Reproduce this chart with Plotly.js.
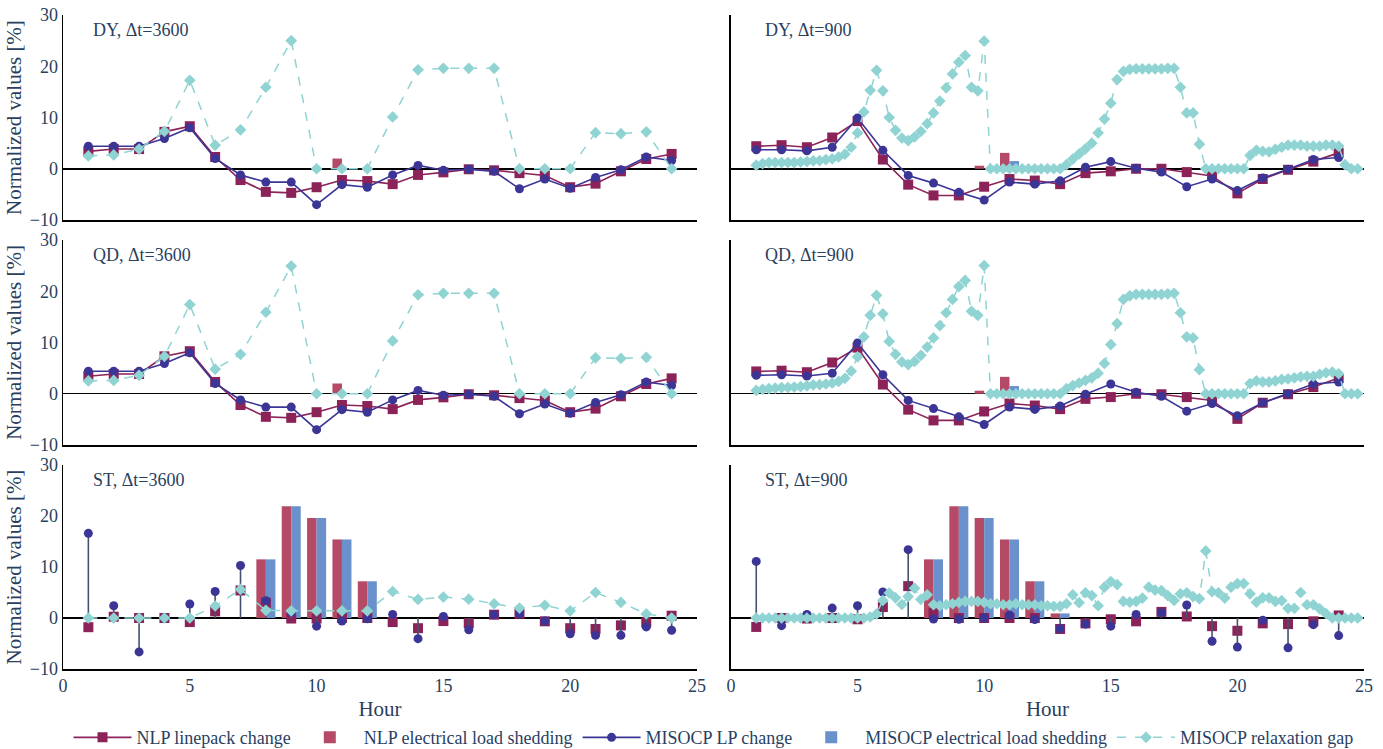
<!DOCTYPE html>
<html>
<head>
<meta charset="utf-8">
<script src="https://cdn.plot.ly/plotly-3.0.1.min.js"></script>
<style>html,body{margin:0;padding:0;background:#fff;}#chart{width:1383px;height:749px;}</style>
</head>
<body>
<div id="chart"></div>
<script>
// ---------- x values ----------
const hours = [1,2,3,4,5,6,7,8,9,10,11,12,13,14,15,16,17,18,19,20,21,22,23,24];
const quarterHours = [
  1,1.25,1.5,1.75, 2,2.25,2.5,2.75, 3,3.25,3.5,3.75, 4,4.25,4.5,4.75,
  5,5.25,5.5,5.75, 6,6.25,6.5,6.75, 7,7.25,7.5,7.75, 8,8.25,8.5,8.75,
  9,9.25,9.5,9.75, 10,10.25,10.5,10.75, 11,11.25,11.5,11.75, 12,12.25,12.5,12.75,
  13,13.25,13.5,13.75, 14,14.25,14.5,14.75, 15,15.25,15.5,15.75, 16,16.25,16.5,16.75,
  17,17.25,17.5,17.75, 18,18.25,18.5,18.75, 19,19.25,19.5,19.75, 20,20.25,20.5,20.75,
  21,21.25,21.5,21.75, 22,22.25,22.5,22.75, 23,23.25,23.5,23.75, 24,24.25,24.5,24.75
];
const xTicks = [0,5,10,15,20,25];
const yTicks = [-10,0,10,20,30];

// ---------- DY, dt=3600 ----------
const dy3600Nlp    = [3.4,3.85,3.85,7.2,8.3,2.3,-2.2,-4.5,-4.7,-3.6,-2.2,-2.4,-3.0,-1.2,-0.7,-0.1,-0.3,-0.85,-1.3,-3.6,-2.9,-0.5,1.9,2.9];
const dy3600Misocp = [4.4,4.4,4.4,5.9,8.0,2.0,-1.2,-2.6,-2.6,-7.0,-3.1,-3.6,-1.2,0.65,-0.3,-0.1,-0.5,-3.9,-2.0,-3.8,-1.7,-0.2,2.3,1.6];
const dy3600Gap    = [2.5,2.7,3.85,7.3,17.25,4.6,7.6,15.9,25.0,0,0,0,10.1,19.3,19.6,19.6,19.6,0,0,0,7.05,6.85,7.2,0];
const dy3600NlpShed    = [0,0,0,0,0,0,0,0,0,0,2.0,0,0,0,0,0,0,0,0,0,0,0,0,0];
const dy3600MisocpShed = [0,0,0,0,0,0,0,0,0,0,0,0,0,0,0,0,0,0,0,0,0,0,0,0];

// ---------- DY, dt=900 ----------
const dy900Nlp    = [4.4,4.6,4.2,6.1,9.3,1.8,-3.1,-5.2,-5.2,-3.5,-2.0,-2.3,-3.0,-0.85,-0.5,0,0,-0.65,-1.4,-4.8,-2.0,-0.2,1.4,3.1];
const dy900Misocp = [3.7,3.7,3.5,4.2,9.9,3.6,-1.3,-2.8,-4.6,-6.1,-2.6,-3.0,-2.35,0.3,1.4,0.1,-0.65,-3.5,-2.0,-4.25,-1.8,-0.1,1.8,2.2];
const dy900Gap = [
  0.7,1.0,1.2,1.2, 1.2,1.2,1.2,1.3, 1.4,1.55,1.6,1.8, 1.95,2.3,2.85,4.2,
  7.0,11.1,15.3,19.2, 15.2,10.0,7.5,6.0, 5.5,6.2,7.3,8.8, 10.9,13.2,15.8,18.5,
  20.8,22.1,15.9,15.2, 24.9,0,0,0, 0,0,0,0, 0,0,0,0,
  0,0.8,1.9,2.9, 3.9,5.0,7.0,9.7, 12.8,17.4,19.0,19.4, 19.5,19.5,19.5,19.5,
  19.5,19.6,19.6,15.9, 10.9,10.9,4.8,0, 0,0,0,0, 0,0,2.6,3.6,
  3.4,3.3,3.8,4.2, 4.6,4.6,4.6,4.4, 4.4,4.4,4.6,4.6, 4.4,0.8,0,0
];
const dy900NlpShed    = [0,0,0,0,0,0,0,0,0,0.6,3.1,0,0,0,0,0,0,0,0,0,0,0,0,0];
const dy900MisocpShed = [0,0,0,0,0,0,0,0,0,0,1.5,0,0,0,0,0,0,0,0,0,0,0,0,0];

// ---------- QD, dt=3600 ----------
const qd3600Nlp    = [3.4,3.85,3.85,7.3,8.3,2.3,-2.2,-4.5,-4.7,-3.6,-2.2,-2.4,-3.0,-1.2,-0.7,-0.1,-0.3,-0.85,-1.3,-3.6,-2.9,-0.5,1.9,3.0];
const qd3600Misocp = [4.4,4.4,4.4,5.9,8.0,2.0,-1.2,-2.6,-2.6,-7.0,-3.1,-3.6,-1.2,0.65,-0.3,-0.1,-0.5,-3.9,-2.0,-3.8,-1.7,-0.2,2.3,1.6];
const qd3600Gap    = [2.5,2.6,3.6,7.3,17.4,4.8,7.7,15.9,24.9,0,0,0,10.3,19.3,19.6,19.6,19.6,0,0,0,7.0,6.9,7.1,0];
const qd3600NlpShed    = [0,0,0,0,0,0,0,0,0,0,2.0,0,0,0,0,0,0,0,0,0,0,0,0,0];
const qd3600MisocpShed = [0,0,0,0,0,0,0,0,0,0,0,0,0,0,0,0,0,0,0,0,0,0,0,0];

// ---------- QD, dt=900 ----------
const qd900Nlp    = [4.35,4.5,4.2,6.1,9.0,1.8,-3.1,-5.2,-5.2,-3.45,-1.9,-2.3,-3.0,-1.0,-0.65,0,-0.1,-0.65,-1.3,-4.9,-1.75,-0.1,1.3,3.05];
const qd900Misocp = [3.6,3.7,3.45,4.0,9.9,3.7,-1.3,-2.9,-4.5,-6.0,-2.6,-3.05,-2.4,-0.1,1.9,0.3,-0.5,-3.4,-1.9,-4.3,-1.75,0,1.9,2.3];
const qd900Gap = [
  0.65,0.85,1.0,1.1, 1.2,1.2,1.3,1.4, 1.55,1.75,1.8,1.9, 2.1,2.4,3.0,4.4,
  7.2,11.1,15.3,19.2, 15.6,10.2,7.7,6.2, 5.7,6.3,7.5,9.1, 10.9,13.3,15.8,18.4,
  20.9,22.1,16.1,15.3, 25.0,0,0,0, 0,0,0,0, 0,0,0,0,
  0,1.0,1.6,2.1, 2.6,3.1,4.0,5.9, 9.6,13.7,18.4,19.1, 19.4,19.4,19.4,19.4,
  19.4,19.5,19.6,15.8, 11.1,10.9,4.7,0, 0,0,0,0, 0,0,2.0,2.5,
  2.3,2.3,2.5,2.8, 2.9,3.1,3.3,3.4, 3.4,3.8,4.1,4.2, 3.9,0,0,0
];
const qd900NlpShed    = [0,0,0,0,0,0,0,0,0,0.6,3.3,0,0,0,0,0,0,0,0,0,0,0,0,0];
const qd900MisocpShed = [0,0,0,0,0,0,0,0,0,0,1.5,0,0,0,0,0,0,0,0,0,0,0,0,0];

// ---------- ST, dt=3600 ----------
const st3600Nlp    = [-1.8,0.25,0,0,-0.8,1.3,5.4,3.0,-0.1,-0.1,0,0,-0.8,-2.0,-0.6,-1.0,0.65,0.85,-0.65,-2.0,-2.15,-1.45,-0.85,0.45];
const st3600Misocp = [16.6,2.4,-6.65,0,2.75,5.2,10.3,3.4,1.1,-1.6,-0.6,-0.15,0.7,-4.05,0.3,-2.3,0.65,0.85,-0.6,-3.1,-3.4,-3.4,-1.75,-2.4];
const st3600Gap    = [0,0,0,0,0,2.35,5.6,1.5,1.4,1.4,1.4,1.4,5.2,3.65,4.1,3.7,2.8,1.95,2.5,1.4,5.0,3.05,0.8,0];
const st3600NlpShed    = [0,0,0,0,0,0,0,11.5,21.9,19.6,15.4,7.2,0,0,0,0,0,0,0,0,0,0,0,0];
const st3600MisocpShed = [0,0,0,0,0,0,0,11.5,21.9,19.6,15.4,7.2,0,0,0,0,0,0,0,0,0,0,0,0];

// ---------- ST, dt=900 ----------
const st900Nlp    = [-1.75,0,-0.1,0,-0.25,2.15,6.25,1.0,0,0,0,0,-2.15,-1.05,-0.25,-0.65,1.2,0.3,-1.6,-2.5,-1.05,-1.2,-0.65,0.5];
const st900Misocp = [11.1,-1.5,0.7,1.95,2.4,5.1,13.4,-0.2,-0.25,0,0.6,-0.3,-2.1,-1.2,-1.6,0.7,1.05,2.55,-4.55,-5.7,-0.45,-5.85,-1.3,-3.45];
const st900Gap = [
  0,0,0,0, 0,0,0,0, 0,0,0,0, 0,0,0,0,
  0,0,0.2,0.8, 3.45,4.9,3.95,2.65, 4.2,5.85,3.65,4.55, 2.6,2.4,2.6,2.8,
  3.05,3.25,3.25,3.25, 3.05,2.8,2.8,2.6, 2.6,2.8,2.6,2.6, 2.6,2.4,2.4,2.3,
  2.3,2.8,4.55,3.0, 4.95,4.4,2.4,6.05, 7.15,6.55,3.25,3.1, 3.25,3.9,6.05,5.45,
  5.35,4.4,3.45,4.75, 4.95,4.2,3.8,13.15, 5.15,4.95,3.9,6.05, 6.75,6.75,4.75,3.1,
  3.95,3.95,3.25,3.4, 1.9,1.9,5.0,2.6, 2.6,1.8,0.85,0, 0,0,0,0
];
const st900NlpShed    = [0,0,0,0,0,0,0,11.5,21.9,19.6,15.4,7.2,0.9,0,0,0,0,0,0,0,0,0,0,0];
const st900MisocpShed = [0,0,0,0,0,0,0,11.5,21.9,19.6,15.4,7.2,0.9,0,0,0,0,0,0,0,0,0,0,0];

const panelLabels = ['DY, Δt=3600','DY, Δt=900','QD, Δt=3600','QD, Δt=900','ST, Δt=3600','ST, Δt=900'];
const seriesNames = ['NLP linepack change','NLP electrical load shedding','MISOCP LP change','MISOCP electrical load shedding','MISOCP relaxation gap'];

// ---------- styling ----------
const C_NLP = '#8b2258';
const C_NLP_BAR = '#b44a66';
const C_MIS = '#3b3596';
const C_MIS_BAR = '#6a91cb';
const C_GAP = '#8fd3d3';
const C_STEM = '#45526e';
const FONT = 'Liberation Serif';
const TXT = '#2a3f5f';

const panels = [
  {nlp: dy3600Nlp, mis: dy3600Misocp, gap: dy3600Gap, gapX: hours, nShed: dy3600NlpShed, mShed: dy3600MisocpShed, stem: false},
  {nlp: dy900Nlp,  mis: dy900Misocp,  gap: dy900Gap,  gapX: quarterHours, nShed: dy900NlpShed, mShed: dy900MisocpShed, stem: false},
  {nlp: qd3600Nlp, mis: qd3600Misocp, gap: qd3600Gap, gapX: hours, nShed: qd3600NlpShed, mShed: qd3600MisocpShed, stem: false},
  {nlp: qd900Nlp,  mis: qd900Misocp,  gap: qd900Gap,  gapX: quarterHours, nShed: qd900NlpShed, mShed: qd900MisocpShed, stem: false},
  {nlp: st3600Nlp, mis: st3600Misocp, gap: st3600Gap, gapX: hours, nShed: st3600NlpShed, mShed: st3600MisocpShed, stem: true},
  {nlp: st900Nlp,  mis: st900Misocp,  gap: st900Gap,  gapX: quarterHours, nShed: st900NlpShed, mShed: st900MisocpShed, stem: true}
];

const traces = [];
panels.forEach((p, i) => {
  const xa = i === 0 ? 'x' : 'x' + (i + 1);
  const ya = i === 0 ? 'y' : 'y' + (i + 1);
  const show = i === 0;
  const lineMode = p.stem ? 'markers' : 'lines+markers';
  traces.push({
    type: 'bar', x: hours, y: p.nShed, xaxis: xa, yaxis: ya, name: seriesNames[1],
    legendgroup: 'nshed', legendrank: 20, showlegend: show, marker: {color: C_NLP_BAR, line: {width: 0}}
  });
  traces.push({
    type: 'bar', x: hours, y: p.mShed, xaxis: xa, yaxis: ya, name: seriesNames[3],
    legendgroup: 'mshed', legendrank: 40, showlegend: show, marker: {color: C_MIS_BAR, line: {width: 0}}
  });
  traces.push({
    type: 'scatter', mode: lineMode, x: hours, y: p.nlp, xaxis: xa, yaxis: ya, name: seriesNames[0],
    legendgroup: 'nlp', legendrank: 10, showlegend: show,
    line: {color: C_NLP, width: 1.6}, marker: {symbol: 'square', size: 10, color: C_NLP}
  });
  const misTrace = {
    type: 'scatter', mode: lineMode, x: hours, y: p.mis, xaxis: xa, yaxis: ya, name: seriesNames[2],
    legendgroup: 'mis', legendrank: 30, showlegend: show,
    line: {color: C_MIS, width: 1.6}, marker: {symbol: 'circle', size: 9, color: C_MIS}
  };
  if (p.stem) {
    misTrace.error_y = {
      type: 'data', symmetric: false,
      array: p.mis.map(v => v < 0 ? -v : 0),
      arrayminus: p.mis.map(v => v > 0 ? v : 0),
      color: C_STEM, thickness: 1.6, width: 0
    };
  }
  traces.push(misTrace);
  traces.push({
    type: 'scatter', mode: 'lines+markers', x: p.gapX, y: p.gap, xaxis: xa, yaxis: ya, name: seriesNames[4],
    legendgroup: 'gap', legendrank: 50, showlegend: show,
    line: {color: C_GAP, width: 1.5, dash: 'dash'}, marker: {symbol: 'diamond', size: 9, color: C_GAP}
  });
});

const xDomL = [0, 0.4873], xDomR = [0.5134, 1];
const yDoms = [[0.6865, 1], [0.3425, 0.656], [0, 0.3119]];

function xAxis(dom, bottom) {
  return {
    domain: dom, range: [0, 25], tickvals: xTicks, showgrid: false, zeroline: false,
    showline: true, linecolor: '#000', linewidth: 1.5, ticks: '',
    showticklabels: bottom, tickfont: {family: FONT, size: 18, color: TXT},
    title: bottom ? {text: 'Hour', font: {family: FONT, size: 21, color: TXT}, standoff: 6} : {text: ''}
  };
}
function yAxis(dom, left, anchor) {
  return {
    domain: dom, range: [-10, 30], tickvals: yTicks, showgrid: false,
    zeroline: true, zerolinecolor: '#000', zerolinewidth: 1.5,
    showline: true, linecolor: '#000', linewidth: 1.5, ticks: '', anchor: anchor,
    showticklabels: left, tickfont: {family: FONT, size: 18, color: TXT},
    title: left ? {text: 'Normalized values [%]', font: {family: FONT, size: 21, color: TXT}, standoff: 2} : {text: ''}
  };
}

const layout = {
  width: 1383, height: 749,
  margin: {l: 63, r: 19, t: 15, b: 80, autoexpand: false},
  paper_bgcolor: '#fff', plot_bgcolor: '#fff',
  font: {family: FONT, size: 17, color: TXT},
  barmode: 'group', bargap: 0.25, bargroupgap: 0,
  showlegend: true,
  legend: {orientation: 'h', x: 0.5, xanchor: 'center', y: -0.105, yanchor: 'middle',
           itemwidth: 58, font: {family: FONT, size: 18, color: TXT}, traceorder: 'normal'},
  xaxis: Object.assign(xAxis(xDomL, false), {anchor: 'y'}),
  xaxis2: Object.assign(xAxis(xDomR, false), {anchor: 'y2'}),
  xaxis3: Object.assign(xAxis(xDomL, false), {anchor: 'y3'}),
  xaxis4: Object.assign(xAxis(xDomR, false), {anchor: 'y4'}),
  xaxis5: Object.assign(xAxis(xDomL, true), {anchor: 'y5'}),
  xaxis6: Object.assign(xAxis(xDomR, true), {anchor: 'y6'}),
  yaxis: yAxis(yDoms[0], true, 'x'),
  yaxis2: yAxis(yDoms[0], false, 'x2'),
  yaxis3: yAxis(yDoms[1], true, 'x3'),
  yaxis4: yAxis(yDoms[1], false, 'x4'),
  yaxis5: yAxis(yDoms[2], true, 'x5'),
  yaxis6: yAxis(yDoms[2], false, 'x6'),
  annotations: panelLabels.map((t, i) => ({
    text: t, showarrow: false,
    xref: (i === 0 ? 'x' : 'x' + (i + 1)) + ' domain',
    yref: (i === 0 ? 'y' : 'y' + (i + 1)) + ' domain',
    x: i % 2 === 0 ? 0.044 : 0.05, y: 0.927, xanchor: 'left', yanchor: 'middle',
    font: {family: FONT, size: 18, color: TXT}
  }))
};

Plotly.newPlot('chart', traces, layout, {displayModeBar: false, staticPlot: true});
</script>
</body>
</html>
